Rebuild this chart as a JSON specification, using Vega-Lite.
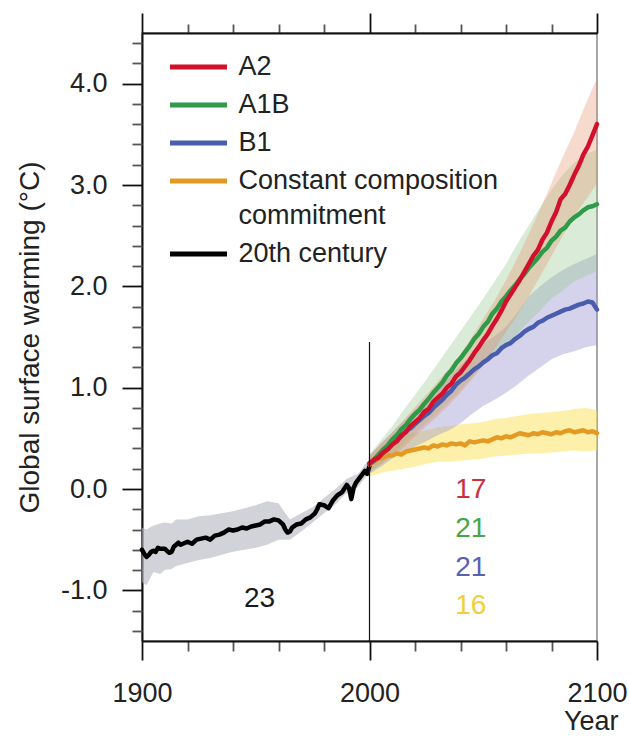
{
  "$schema": "https://vega.github.io/schema/vega-lite/v6.json",
  "width": 455,
  "height": 608,
  "autosize": {"type": "none"},
  "padding": {"left": 142, "top": 33, "right": 33, "bottom": 95},
  "background": "white",
  "config": {
    "view": {"stroke": "#8a8a8a", "strokeWidth": 1.5},
    "font": "Liberation Sans"
  },
  "data": {"values": [{}]},
  "datasets": {
    "bands": [
      {"series": "20th century", "year": 1900, "lo": -0.92, "hi": -0.38},
      {"series": "20th century", "year": 1902, "lo": -0.95, "hi": -0.40},
      {"series": "20th century", "year": 1905, "lo": -0.82, "hi": -0.36},
      {"series": "20th century", "year": 1908, "lo": -0.84, "hi": -0.34},
      {"series": "20th century", "year": 1910, "lo": -0.80, "hi": -0.33},
      {"series": "20th century", "year": 1913, "lo": -0.79, "hi": -0.34},
      {"series": "20th century", "year": 1915, "lo": -0.76, "hi": -0.30},
      {"series": "20th century", "year": 1920, "lo": -0.73, "hi": -0.30},
      {"series": "20th century", "year": 1925, "lo": -0.70, "hi": -0.27},
      {"series": "20th century", "year": 1930, "lo": -0.68, "hi": -0.26},
      {"series": "20th century", "year": 1935, "lo": -0.65, "hi": -0.24},
      {"series": "20th century", "year": 1940, "lo": -0.62, "hi": -0.22},
      {"series": "20th century", "year": 1945, "lo": -0.60, "hi": -0.19},
      {"series": "20th century", "year": 1950, "lo": -0.58, "hi": -0.16},
      {"series": "20th century", "year": 1955, "lo": -0.55, "hi": -0.12},
      {"series": "20th century", "year": 1960, "lo": -0.50, "hi": -0.14},
      {"series": "20th century", "year": 1963, "lo": -0.50, "hi": -0.24},
      {"series": "20th century", "year": 1965, "lo": -0.50, "hi": -0.30},
      {"series": "20th century", "year": 1970, "lo": -0.42, "hi": -0.24},
      {"series": "20th century", "year": 1975, "lo": -0.33, "hi": -0.18},
      {"series": "20th century", "year": 1980, "lo": -0.24, "hi": -0.09},
      {"series": "20th century", "year": 1985, "lo": -0.15, "hi": 0.00},
      {"series": "20th century", "year": 1990, "lo": -0.04, "hi": 0.10},
      {"series": "20th century", "year": 1995, "lo": 0.02, "hi": 0.15},
      {"series": "20th century", "year": 2000, "lo": 0.17, "hi": 0.30},

      {"series": "Constant composition commitment", "year": 2000, "lo": 0.12, "hi": 0.30},
      {"series": "Constant composition commitment", "year": 2005, "lo": 0.16, "hi": 0.40},
      {"series": "Constant composition commitment", "year": 2010, "lo": 0.18, "hi": 0.46},
      {"series": "Constant composition commitment", "year": 2015, "lo": 0.20, "hi": 0.52},
      {"series": "Constant composition commitment", "year": 2020, "lo": 0.22, "hi": 0.55},
      {"series": "Constant composition commitment", "year": 2025, "lo": 0.25, "hi": 0.58},
      {"series": "Constant composition commitment", "year": 2030, "lo": 0.27, "hi": 0.61},
      {"series": "Constant composition commitment", "year": 2035, "lo": 0.27, "hi": 0.62},
      {"series": "Constant composition commitment", "year": 2040, "lo": 0.28, "hi": 0.64},
      {"series": "Constant composition commitment", "year": 2045, "lo": 0.29, "hi": 0.65},
      {"series": "Constant composition commitment", "year": 2050, "lo": 0.30, "hi": 0.66},
      {"series": "Constant composition commitment", "year": 2055, "lo": 0.32, "hi": 0.69},
      {"series": "Constant composition commitment", "year": 2060, "lo": 0.33, "hi": 0.70},
      {"series": "Constant composition commitment", "year": 2065, "lo": 0.34, "hi": 0.72},
      {"series": "Constant composition commitment", "year": 2070, "lo": 0.35, "hi": 0.74},
      {"series": "Constant composition commitment", "year": 2075, "lo": 0.35, "hi": 0.75},
      {"series": "Constant composition commitment", "year": 2080, "lo": 0.36, "hi": 0.76},
      {"series": "Constant composition commitment", "year": 2085, "lo": 0.37, "hi": 0.77},
      {"series": "Constant composition commitment", "year": 2090, "lo": 0.38, "hi": 0.79},
      {"series": "Constant composition commitment", "year": 2095, "lo": 0.37, "hi": 0.80},
      {"series": "Constant composition commitment", "year": 2100, "lo": 0.38, "hi": 0.78},

      {"series": "B1", "year": 2000, "lo": 0.15, "hi": 0.33},
      {"series": "B1", "year": 2005, "lo": 0.22, "hi": 0.45},
      {"series": "B1", "year": 2010, "lo": 0.30, "hi": 0.56},
      {"series": "B1", "year": 2015, "lo": 0.36, "hi": 0.67},
      {"series": "B1", "year": 2020, "lo": 0.42, "hi": 0.78},
      {"series": "B1", "year": 2025, "lo": 0.47, "hi": 0.89},
      {"series": "B1", "year": 2030, "lo": 0.53, "hi": 1.00},
      {"series": "B1", "year": 2035, "lo": 0.58, "hi": 1.10},
      {"series": "B1", "year": 2040, "lo": 0.65, "hi": 1.22},
      {"series": "B1", "year": 2045, "lo": 0.74, "hi": 1.33},
      {"series": "B1", "year": 2050, "lo": 0.82, "hi": 1.43},
      {"series": "B1", "year": 2055, "lo": 0.88, "hi": 1.51},
      {"series": "B1", "year": 2060, "lo": 0.95, "hi": 1.60},
      {"series": "B1", "year": 2065, "lo": 1.03, "hi": 1.74},
      {"series": "B1", "year": 2070, "lo": 1.12, "hi": 1.90},
      {"series": "B1", "year": 2075, "lo": 1.20, "hi": 2.00},
      {"series": "B1", "year": 2080, "lo": 1.28, "hi": 2.09},
      {"series": "B1", "year": 2085, "lo": 1.33, "hi": 2.16},
      {"series": "B1", "year": 2090, "lo": 1.36, "hi": 2.22},
      {"series": "B1", "year": 2095, "lo": 1.40, "hi": 2.27},
      {"series": "B1", "year": 2100, "lo": 1.42, "hi": 2.32},

      {"series": "A1B", "year": 2000, "lo": 0.16, "hi": 0.34},
      {"series": "A1B", "year": 2005, "lo": 0.25, "hi": 0.48},
      {"series": "A1B", "year": 2010, "lo": 0.34, "hi": 0.62},
      {"series": "A1B", "year": 2015, "lo": 0.45, "hi": 0.78},
      {"series": "A1B", "year": 2020, "lo": 0.55, "hi": 0.93},
      {"series": "A1B", "year": 2025, "lo": 0.65, "hi": 1.08},
      {"series": "A1B", "year": 2030, "lo": 0.75, "hi": 1.24},
      {"series": "A1B", "year": 2035, "lo": 0.86, "hi": 1.40},
      {"series": "A1B", "year": 2040, "lo": 0.98, "hi": 1.56},
      {"series": "A1B", "year": 2045, "lo": 1.10, "hi": 1.72},
      {"series": "A1B", "year": 2050, "lo": 1.22, "hi": 1.88},
      {"series": "A1B", "year": 2055, "lo": 1.32, "hi": 2.05},
      {"series": "A1B", "year": 2060, "lo": 1.42, "hi": 2.22},
      {"series": "A1B", "year": 2065, "lo": 1.53, "hi": 2.42},
      {"series": "A1B", "year": 2070, "lo": 1.65, "hi": 2.60},
      {"series": "A1B", "year": 2075, "lo": 1.76, "hi": 2.78},
      {"series": "A1B", "year": 2080, "lo": 1.88, "hi": 2.95},
      {"series": "A1B", "year": 2085, "lo": 1.96, "hi": 3.10},
      {"series": "A1B", "year": 2090, "lo": 2.05, "hi": 3.22},
      {"series": "A1B", "year": 2095, "lo": 2.10, "hi": 3.30},
      {"series": "A1B", "year": 2100, "lo": 2.15, "hi": 3.35},

      {"series": "A2", "year": 2000, "lo": 0.17, "hi": 0.33},
      {"series": "A2", "year": 2005, "lo": 0.24, "hi": 0.45},
      {"series": "A2", "year": 2010, "lo": 0.32, "hi": 0.56},
      {"series": "A2", "year": 2015, "lo": 0.41, "hi": 0.68},
      {"series": "A2", "year": 2020, "lo": 0.52, "hi": 0.81},
      {"series": "A2", "year": 2025, "lo": 0.62, "hi": 0.93},
      {"series": "A2", "year": 2030, "lo": 0.72, "hi": 1.06},
      {"series": "A2", "year": 2035, "lo": 0.83, "hi": 1.19},
      {"series": "A2", "year": 2040, "lo": 0.95, "hi": 1.33},
      {"series": "A2", "year": 2045, "lo": 1.08, "hi": 1.50},
      {"series": "A2", "year": 2050, "lo": 1.22, "hi": 1.68},
      {"series": "A2", "year": 2055, "lo": 1.38, "hi": 1.86},
      {"series": "A2", "year": 2060, "lo": 1.55, "hi": 2.06},
      {"series": "A2", "year": 2065, "lo": 1.72, "hi": 2.28},
      {"series": "A2", "year": 2070, "lo": 1.90, "hi": 2.52},
      {"series": "A2", "year": 2075, "lo": 2.10, "hi": 2.76},
      {"series": "A2", "year": 2080, "lo": 2.30, "hi": 3.02},
      {"series": "A2", "year": 2085, "lo": 2.50, "hi": 3.28},
      {"series": "A2", "year": 2090, "lo": 2.70, "hi": 3.52},
      {"series": "A2", "year": 2095, "lo": 2.85, "hi": 3.80},
      {"series": "A2", "year": 2100, "lo": 3.02, "hi": 4.05}
    ],
    "lines": [
      {"series": "20th century", "year": 1900, "temp": -0.60},
      {"series": "20th century", "year": 1901, "temp": -0.64},
      {"series": "20th century", "year": 1902, "temp": -0.67},
      {"series": "20th century", "year": 1903, "temp": -0.65},
      {"series": "20th century", "year": 1904, "temp": -0.62},
      {"series": "20th century", "year": 1905, "temp": -0.61},
      {"series": "20th century", "year": 1906, "temp": -0.62},
      {"series": "20th century", "year": 1907, "temp": -0.58},
      {"series": "20th century", "year": 1908, "temp": -0.59},
      {"series": "20th century", "year": 1910, "temp": -0.59},
      {"series": "20th century", "year": 1911, "temp": -0.61},
      {"series": "20th century", "year": 1912, "temp": -0.63},
      {"series": "20th century", "year": 1913, "temp": -0.62},
      {"series": "20th century", "year": 1914, "temp": -0.57},
      {"series": "20th century", "year": 1915, "temp": -0.55},
      {"series": "20th century", "year": 1916, "temp": -0.53},
      {"series": "20th century", "year": 1917, "temp": -0.55},
      {"series": "20th century", "year": 1918, "temp": -0.54},
      {"series": "20th century", "year": 1920, "temp": -0.52},
      {"series": "20th century", "year": 1922, "temp": -0.54},
      {"series": "20th century", "year": 1924, "temp": -0.50},
      {"series": "20th century", "year": 1926, "temp": -0.49},
      {"series": "20th century", "year": 1928, "temp": -0.48},
      {"series": "20th century", "year": 1930, "temp": -0.50},
      {"series": "20th century", "year": 1932, "temp": -0.46},
      {"series": "20th century", "year": 1934, "temp": -0.45},
      {"series": "20th century", "year": 1936, "temp": -0.43},
      {"series": "20th century", "year": 1938, "temp": -0.40},
      {"series": "20th century", "year": 1940, "temp": -0.41},
      {"series": "20th century", "year": 1942, "temp": -0.40},
      {"series": "20th century", "year": 1944, "temp": -0.38},
      {"series": "20th century", "year": 1946, "temp": -0.39},
      {"series": "20th century", "year": 1948, "temp": -0.37},
      {"series": "20th century", "year": 1950, "temp": -0.36},
      {"series": "20th century", "year": 1952, "temp": -0.35},
      {"series": "20th century", "year": 1954, "temp": -0.32},
      {"series": "20th century", "year": 1956, "temp": -0.32},
      {"series": "20th century", "year": 1958, "temp": -0.30},
      {"series": "20th century", "year": 1960, "temp": -0.31},
      {"series": "20th century", "year": 1962, "temp": -0.35},
      {"series": "20th century", "year": 1963, "temp": -0.40},
      {"series": "20th century", "year": 1964, "temp": -0.43},
      {"series": "20th century", "year": 1965, "temp": -0.42},
      {"series": "20th century", "year": 1966, "temp": -0.38},
      {"series": "20th century", "year": 1968, "temp": -0.35},
      {"series": "20th century", "year": 1970, "temp": -0.34},
      {"series": "20th century", "year": 1972, "temp": -0.30},
      {"series": "20th century", "year": 1974, "temp": -0.28},
      {"series": "20th century", "year": 1976, "temp": -0.24},
      {"series": "20th century", "year": 1977, "temp": -0.20},
      {"series": "20th century", "year": 1978, "temp": -0.15},
      {"series": "20th century", "year": 1980, "temp": -0.16},
      {"series": "20th century", "year": 1982, "temp": -0.19},
      {"series": "20th century", "year": 1983, "temp": -0.15},
      {"series": "20th century", "year": 1984, "temp": -0.11},
      {"series": "20th century", "year": 1986, "temp": -0.06},
      {"series": "20th century", "year": 1988, "temp": -0.03},
      {"series": "20th century", "year": 1990, "temp": 0.04},
      {"series": "20th century", "year": 1991, "temp": 0.01},
      {"series": "20th century", "year": 1992, "temp": -0.10},
      {"series": "20th century", "year": 1993, "temp": 0.01},
      {"series": "20th century", "year": 1994, "temp": 0.06},
      {"series": "20th century", "year": 1996, "temp": 0.12},
      {"series": "20th century", "year": 1997, "temp": 0.15},
      {"series": "20th century", "year": 1998, "temp": 0.18},
      {"series": "20th century", "year": 1999, "temp": 0.15},
      {"series": "20th century", "year": 2000, "temp": 0.23},

      {"series": "Constant composition commitment", "year": 2000, "temp": 0.24},
      {"series": "Constant composition commitment", "year": 2002, "temp": 0.27},
      {"series": "Constant composition commitment", "year": 2004, "temp": 0.30},
      {"series": "Constant composition commitment", "year": 2006, "temp": 0.31},
      {"series": "Constant composition commitment", "year": 2008, "temp": 0.33},
      {"series": "Constant composition commitment", "year": 2010, "temp": 0.33},
      {"series": "Constant composition commitment", "year": 2012, "temp": 0.35},
      {"series": "Constant composition commitment", "year": 2014, "temp": 0.34},
      {"series": "Constant composition commitment", "year": 2016, "temp": 0.37},
      {"series": "Constant composition commitment", "year": 2018, "temp": 0.38},
      {"series": "Constant composition commitment", "year": 2020, "temp": 0.39},
      {"series": "Constant composition commitment", "year": 2022, "temp": 0.40},
      {"series": "Constant composition commitment", "year": 2024, "temp": 0.41},
      {"series": "Constant composition commitment", "year": 2026, "temp": 0.40},
      {"series": "Constant composition commitment", "year": 2028, "temp": 0.43},
      {"series": "Constant composition commitment", "year": 2030, "temp": 0.42},
      {"series": "Constant composition commitment", "year": 2032, "temp": 0.44},
      {"series": "Constant composition commitment", "year": 2034, "temp": 0.43},
      {"series": "Constant composition commitment", "year": 2036, "temp": 0.45},
      {"series": "Constant composition commitment", "year": 2038, "temp": 0.44},
      {"series": "Constant composition commitment", "year": 2040, "temp": 0.45},
      {"series": "Constant composition commitment", "year": 2042, "temp": 0.43},
      {"series": "Constant composition commitment", "year": 2044, "temp": 0.47},
      {"series": "Constant composition commitment", "year": 2046, "temp": 0.46},
      {"series": "Constant composition commitment", "year": 2048, "temp": 0.47},
      {"series": "Constant composition commitment", "year": 2050, "temp": 0.48},
      {"series": "Constant composition commitment", "year": 2052, "temp": 0.47},
      {"series": "Constant composition commitment", "year": 2054, "temp": 0.49},
      {"series": "Constant composition commitment", "year": 2056, "temp": 0.51},
      {"series": "Constant composition commitment", "year": 2058, "temp": 0.50},
      {"series": "Constant composition commitment", "year": 2060, "temp": 0.52},
      {"series": "Constant composition commitment", "year": 2062, "temp": 0.51},
      {"series": "Constant composition commitment", "year": 2064, "temp": 0.53},
      {"series": "Constant composition commitment", "year": 2066, "temp": 0.55},
      {"series": "Constant composition commitment", "year": 2068, "temp": 0.54},
      {"series": "Constant composition commitment", "year": 2070, "temp": 0.53},
      {"series": "Constant composition commitment", "year": 2072, "temp": 0.55},
      {"series": "Constant composition commitment", "year": 2074, "temp": 0.54},
      {"series": "Constant composition commitment", "year": 2076, "temp": 0.56},
      {"series": "Constant composition commitment", "year": 2078, "temp": 0.55},
      {"series": "Constant composition commitment", "year": 2080, "temp": 0.54},
      {"series": "Constant composition commitment", "year": 2082, "temp": 0.56},
      {"series": "Constant composition commitment", "year": 2084, "temp": 0.55},
      {"series": "Constant composition commitment", "year": 2086, "temp": 0.57},
      {"series": "Constant composition commitment", "year": 2088, "temp": 0.58},
      {"series": "Constant composition commitment", "year": 2090, "temp": 0.56},
      {"series": "Constant composition commitment", "year": 2092, "temp": 0.57},
      {"series": "Constant composition commitment", "year": 2094, "temp": 0.58},
      {"series": "Constant composition commitment", "year": 2096, "temp": 0.56},
      {"series": "Constant composition commitment", "year": 2098, "temp": 0.57},
      {"series": "Constant composition commitment", "year": 2100, "temp": 0.55},

      {"series": "B1", "year": 2000, "temp": 0.25},
      {"series": "B1", "year": 2002, "temp": 0.28},
      {"series": "B1", "year": 2004, "temp": 0.32},
      {"series": "B1", "year": 2006, "temp": 0.36},
      {"series": "B1", "year": 2008, "temp": 0.40},
      {"series": "B1", "year": 2010, "temp": 0.44},
      {"series": "B1", "year": 2012, "temp": 0.48},
      {"series": "B1", "year": 2014, "temp": 0.52},
      {"series": "B1", "year": 2016, "temp": 0.57},
      {"series": "B1", "year": 2018, "temp": 0.60},
      {"series": "B1", "year": 2020, "temp": 0.64},
      {"series": "B1", "year": 2022, "temp": 0.68},
      {"series": "B1", "year": 2024, "temp": 0.72},
      {"series": "B1", "year": 2026, "temp": 0.75},
      {"series": "B1", "year": 2028, "temp": 0.80},
      {"series": "B1", "year": 2030, "temp": 0.84},
      {"series": "B1", "year": 2032, "temp": 0.88},
      {"series": "B1", "year": 2034, "temp": 0.93},
      {"series": "B1", "year": 2036, "temp": 0.97},
      {"series": "B1", "year": 2038, "temp": 1.03},
      {"series": "B1", "year": 2040, "temp": 1.07},
      {"series": "B1", "year": 2042, "temp": 1.10},
      {"series": "B1", "year": 2044, "temp": 1.14},
      {"series": "B1", "year": 2046, "temp": 1.18},
      {"series": "B1", "year": 2048, "temp": 1.21},
      {"series": "B1", "year": 2050, "temp": 1.25},
      {"series": "B1", "year": 2052, "temp": 1.28},
      {"series": "B1", "year": 2054, "temp": 1.32},
      {"series": "B1", "year": 2056, "temp": 1.34},
      {"series": "B1", "year": 2058, "temp": 1.39},
      {"series": "B1", "year": 2060, "temp": 1.42},
      {"series": "B1", "year": 2062, "temp": 1.44},
      {"series": "B1", "year": 2064, "temp": 1.48},
      {"series": "B1", "year": 2066, "temp": 1.51},
      {"series": "B1", "year": 2068, "temp": 1.55},
      {"series": "B1", "year": 2070, "temp": 1.58},
      {"series": "B1", "year": 2072, "temp": 1.60},
      {"series": "B1", "year": 2074, "temp": 1.64},
      {"series": "B1", "year": 2076, "temp": 1.66},
      {"series": "B1", "year": 2078, "temp": 1.69},
      {"series": "B1", "year": 2080, "temp": 1.71},
      {"series": "B1", "year": 2082, "temp": 1.73},
      {"series": "B1", "year": 2084, "temp": 1.75},
      {"series": "B1", "year": 2086, "temp": 1.77},
      {"series": "B1", "year": 2088, "temp": 1.78},
      {"series": "B1", "year": 2090, "temp": 1.80},
      {"series": "B1", "year": 2092, "temp": 1.82},
      {"series": "B1", "year": 2094, "temp": 1.83},
      {"series": "B1", "year": 2096, "temp": 1.85},
      {"series": "B1", "year": 2098, "temp": 1.84},
      {"series": "B1", "year": 2100, "temp": 1.77},

      {"series": "A1B", "year": 2000, "temp": 0.25},
      {"series": "A1B", "year": 2002, "temp": 0.29},
      {"series": "A1B", "year": 2004, "temp": 0.34},
      {"series": "A1B", "year": 2006, "temp": 0.39},
      {"series": "A1B", "year": 2008, "temp": 0.43},
      {"series": "A1B", "year": 2010, "temp": 0.49},
      {"series": "A1B", "year": 2012, "temp": 0.53},
      {"series": "A1B", "year": 2014, "temp": 0.59},
      {"series": "A1B", "year": 2016, "temp": 0.63},
      {"series": "A1B", "year": 2018, "temp": 0.69},
      {"series": "A1B", "year": 2020, "temp": 0.74},
      {"series": "A1B", "year": 2022, "temp": 0.78},
      {"series": "A1B", "year": 2024, "temp": 0.84},
      {"series": "A1B", "year": 2026, "temp": 0.89},
      {"series": "A1B", "year": 2028, "temp": 0.95},
      {"series": "A1B", "year": 2030, "temp": 1.00},
      {"series": "A1B", "year": 2032, "temp": 1.05},
      {"series": "A1B", "year": 2034, "temp": 1.12},
      {"series": "A1B", "year": 2036, "temp": 1.17},
      {"series": "A1B", "year": 2038, "temp": 1.24},
      {"series": "A1B", "year": 2040, "temp": 1.29},
      {"series": "A1B", "year": 2042, "temp": 1.35},
      {"series": "A1B", "year": 2044, "temp": 1.41},
      {"series": "A1B", "year": 2046, "temp": 1.48},
      {"series": "A1B", "year": 2048, "temp": 1.53},
      {"series": "A1B", "year": 2050, "temp": 1.60},
      {"series": "A1B", "year": 2052, "temp": 1.65},
      {"series": "A1B", "year": 2054, "temp": 1.73},
      {"series": "A1B", "year": 2056, "temp": 1.78},
      {"series": "A1B", "year": 2058, "temp": 1.85},
      {"series": "A1B", "year": 2060, "temp": 1.90},
      {"series": "A1B", "year": 2062, "temp": 1.96},
      {"series": "A1B", "year": 2064, "temp": 2.01},
      {"series": "A1B", "year": 2066, "temp": 2.07},
      {"series": "A1B", "year": 2068, "temp": 2.12},
      {"series": "A1B", "year": 2070, "temp": 2.18},
      {"series": "A1B", "year": 2072, "temp": 2.23},
      {"series": "A1B", "year": 2074, "temp": 2.28},
      {"series": "A1B", "year": 2076, "temp": 2.34},
      {"series": "A1B", "year": 2078, "temp": 2.38},
      {"series": "A1B", "year": 2080, "temp": 2.45},
      {"series": "A1B", "year": 2082, "temp": 2.49},
      {"series": "A1B", "year": 2084, "temp": 2.55},
      {"series": "A1B", "year": 2086, "temp": 2.58},
      {"series": "A1B", "year": 2088, "temp": 2.64},
      {"series": "A1B", "year": 2090, "temp": 2.68},
      {"series": "A1B", "year": 2092, "temp": 2.71},
      {"series": "A1B", "year": 2094, "temp": 2.75},
      {"series": "A1B", "year": 2096, "temp": 2.78},
      {"series": "A1B", "year": 2098, "temp": 2.79},
      {"series": "A1B", "year": 2100, "temp": 2.81},

      {"series": "A2", "year": 2000, "temp": 0.25},
      {"series": "A2", "year": 2002, "temp": 0.29},
      {"series": "A2", "year": 2004, "temp": 0.31},
      {"series": "A2", "year": 2006, "temp": 0.36},
      {"series": "A2", "year": 2008, "temp": 0.39},
      {"series": "A2", "year": 2010, "temp": 0.44},
      {"series": "A2", "year": 2012, "temp": 0.47},
      {"series": "A2", "year": 2014, "temp": 0.53},
      {"series": "A2", "year": 2016, "temp": 0.56},
      {"series": "A2", "year": 2018, "temp": 0.62},
      {"series": "A2", "year": 2020, "temp": 0.66},
      {"series": "A2", "year": 2022, "temp": 0.70},
      {"series": "A2", "year": 2024, "temp": 0.76},
      {"series": "A2", "year": 2026, "temp": 0.79},
      {"series": "A2", "year": 2028, "temp": 0.86},
      {"series": "A2", "year": 2030, "temp": 0.90},
      {"series": "A2", "year": 2032, "temp": 0.94},
      {"series": "A2", "year": 2034, "temp": 1.00},
      {"series": "A2", "year": 2036, "temp": 1.04},
      {"series": "A2", "year": 2038, "temp": 1.11},
      {"series": "A2", "year": 2040, "temp": 1.15},
      {"series": "A2", "year": 2042, "temp": 1.21},
      {"series": "A2", "year": 2044, "temp": 1.27},
      {"series": "A2", "year": 2046, "temp": 1.34},
      {"series": "A2", "year": 2048, "temp": 1.40},
      {"series": "A2", "year": 2050, "temp": 1.47},
      {"series": "A2", "year": 2052, "temp": 1.53},
      {"series": "A2", "year": 2054, "temp": 1.61},
      {"series": "A2", "year": 2056, "temp": 1.68},
      {"series": "A2", "year": 2058, "temp": 1.76},
      {"series": "A2", "year": 2060, "temp": 1.85},
      {"series": "A2", "year": 2062, "temp": 1.92},
      {"series": "A2", "year": 2064, "temp": 1.99},
      {"series": "A2", "year": 2066, "temp": 2.06},
      {"series": "A2", "year": 2068, "temp": 2.14},
      {"series": "A2", "year": 2070, "temp": 2.22},
      {"series": "A2", "year": 2072, "temp": 2.30},
      {"series": "A2", "year": 2074, "temp": 2.36},
      {"series": "A2", "year": 2076, "temp": 2.46},
      {"series": "A2", "year": 2078, "temp": 2.53},
      {"series": "A2", "year": 2080, "temp": 2.64},
      {"series": "A2", "year": 2082, "temp": 2.73},
      {"series": "A2", "year": 2084, "temp": 2.86},
      {"series": "A2", "year": 2086, "temp": 2.91},
      {"series": "A2", "year": 2088, "temp": 3.00},
      {"series": "A2", "year": 2090, "temp": 3.10},
      {"series": "A2", "year": 2092, "temp": 3.19},
      {"series": "A2", "year": 2094, "temp": 3.30},
      {"series": "A2", "year": 2096, "temp": 3.38},
      {"series": "A2", "year": 2098, "temp": 3.49},
      {"series": "A2", "year": 2100, "temp": 3.60}
    ],
    "counts": [
      {"label": "17", "series": "A2", "year": 2044.5, "temp": -0.09},
      {"label": "21", "series": "A1B", "year": 2044.5, "temp": -0.47},
      {"label": "21", "series": "B1", "year": 2044.5, "temp": -0.855},
      {"label": "16", "series": "Constant composition commitment", "year": 2044.5, "temp": -1.23},
      {"label": "23", "series": "20th century", "year": 1951.7, "temp": -1.16}
    ]
  },
  "resolve": {"axis": {"x": "independent", "y": "independent"}, "scale": {"fill": "independent"}},
  "layer": [
    {
      "data": {"name": "bands"},
      "mark": {"type": "area", "interpolate": "linear"},
      "encoding": {
        "x": {
          "field": "year", "type": "quantitative",
          "scale": {"domain": [1900, 2100], "nice": false, "zero": false},
          "axis": {
            "orient": "bottom",
            "values": [1900, 1920, 1940, 1960, 1980, 2000, 2020, 2040, 2060, 2080, 2100],
            "format": "d",
            "labelExpr": "datum.value % 100 == 0 ? datum.label : ''",
            "labelOverlap": false,
            "labelFlush": false,
            "labelFont": "Liberation Sans",
            "labelFontSize": 27,
            "labelColor": "#222",
            "labelBaseline": "alphabetic",
            "labelPadding": 41,
            "tickSize": {"condition": {"test": "datum.value % 100 == 0", "value": 19}, "value": 10},
            "tickColor": {"condition": {"test": "datum.value % 100 == 0", "value": "#111"}, "value": "#555"},
            "tickWidth": 1.8,
            "domainColor": "#111",
            "domainWidth": 2,
            "grid": false,
            "title": "Year",
            "titleFont": "Liberation Sans",
            "titleFontSize": 27,
            "titleFontWeight": "normal",
            "titleColor": "#222",
            "titleX": 476,
            "titleY": 88,
            "titleAlign": "right",
            "titleBaseline": "alphabetic"
          }
        },
        "y": {
          "field": "lo", "type": "quantitative",
          "scale": {"domain": [-1.5, 4.5], "nice": false, "zero": false},
          "axis": {
            "orient": "left",
            "values": [-1, 0, 1, 2, 3, 4],
            "format": ".1f",
            "labelExpr": "replace(datum.label, '\u2212', '-')",
            "labelOverlap": false,
            "labelFlush": false,
            "labelFont": "Liberation Sans",
            "labelFontSize": 27,
            "labelColor": "#222",
            "labelPadding": 15,
            "tickSize": 20,
            "tickColor": "#111",
            "tickWidth": 1.8,
            "domainColor": "#111",
            "domainWidth": 2,
            "grid": false,
            "title": "Global surface warming (°C)",
            "titleFont": "Liberation Sans",
            "titleFontSize": 28,
            "titleFontWeight": "normal",
            "titleColor": "#222",
            "titleAngle": -90,
            "titleX": -104,
            "titleY": 304,
            "titleAlign": "center",
            "titleBaseline": "alphabetic"
          }
        },
        "y2": {"field": "hi"},
        "fill": {
          "field": "series", "type": "nominal",
          "scale": {
            "domain": ["20th century", "Constant composition commitment", "B1", "A1B", "A2"],
            "range": ["rgba(180,180,192,0.6)", "rgba(249,225,85,0.5)", "rgba(150,144,205,0.4)", "rgba(150,200,140,0.35)", "rgba(228,140,98,0.32)"]
          },
          "legend": null
        }
      }
    },
    {
      "data": {"name": "lines"},
      "mark": {"type": "line", "strokeWidth": 4.5, "strokeJoin": "round", "strokeCap": "round"},
      "encoding": {
        "x": {
          "field": "year", "type": "quantitative",
          "axis": {
            "orient": "top",
            "values": [1900, 1920, 1940, 1960, 1980, 2000, 2020, 2040, 2060, 2080, 2100],
            "labels": false,
            "tickSize": {"condition": {"test": "datum.value % 100 == 0", "value": 20}, "value": 9},
            "tickColor": {"condition": {"test": "datum.value % 100 == 0", "value": "#111"}, "value": "#555"},
            "tickWidth": 1.8,
            "domainColor": "#111",
            "domainWidth": 2,
            "grid": false,
            "title": null
          }
        },
        "y": {
          "field": "temp", "type": "quantitative",
          "axis": {
            "orient": "left",
            "values": [-1.4, -1.2, -0.8, -0.6, -0.4, -0.2, 0.2, 0.4, 0.6, 0.8, 1.2, 1.4, 1.6, 1.8, 2.2, 2.4, 2.6, 2.8, 3.2, 3.4, 3.6, 3.8, 4.2, 4.4],
            "labels": false,
            "tickSize": 10,
            "tickColor": "#555",
            "tickWidth": 1.8,
            "domain": false,
            "grid": false,
            "title": null
          }
        },
        "stroke": {
          "field": "series", "type": "nominal",
          "scale": {
            "domain": ["A2", "A1B", "B1", "Constant composition commitment", "20th century"],
            "range": ["#d2102c", "#2f9a48", "#4a5cae", "#e49a22", "#000000"]
          },
          "legend": {
            "orient": "none",
            "legendX": 42.5,
            "legendY": 20,
            "title": null,
            "padding": 0,
            "symbolType": "M-2.5,0H2.5",
            "symbolSize": 520,
            "symbolStrokeWidth": 5,
            "labelFont": "Liberation Sans",
            "labelFontSize": 27,
            "labelColor": "#222",
            "labelOffset": 26,
            "labelLimit": 0,
            "rowPadding": 11,
            "labelExpr": "datum.label == 'Constant composition commitment' ? ['Constant composition', 'commitment'] : datum.label",
            "encode": {
              "labels": {
                "update": {
                  "lineHeight": {"value": 35}
                }
              }
            }
          }
        }
      }
    },
    {
      "mark": {"type": "rule", "color": "#111", "strokeWidth": 1.2},
      "encoding": {
        "x": {"datum": 2000, "type": "quantitative", "axis": null},
        "y": {"datum": -1.5, "type": "quantitative", "axis": null},
        "y2": {"datum": 1.45}
      }
    },
    {
      "data": {"name": "counts"},
      "mark": {"type": "text", "font": "Liberation Sans", "fontSize": 28, "align": "center", "baseline": "alphabetic"},
      "encoding": {
        "x": {"field": "year", "type": "quantitative", "axis": null},
        "y": {"field": "temp", "type": "quantitative", "axis": null},
        "text": {"field": "label"},
        "fill": {
          "field": "series", "type": "nominal",
          "scale": {
            "domain": ["A2", "A1B", "B1", "Constant composition commitment", "20th century"],
            "range": ["#c9303e", "#47a748", "#5a60b4", "#f2cf3a", "#1a1a1a"]
          },
          "legend": null
        }
      }
    }
  ]
}
